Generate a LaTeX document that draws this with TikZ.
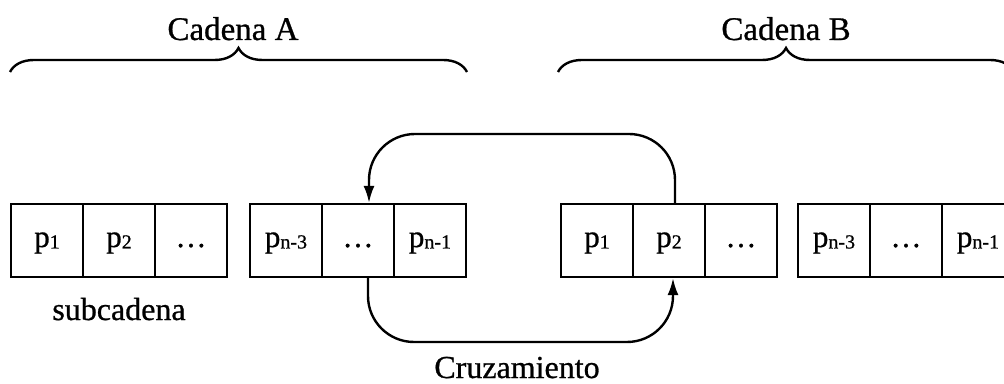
\documentclass[tikz,border=0pt]{standalone}
\usepackage{fontspec}
\setmainfont{Liberation Serif}[RawFeature={embolden=0.8}]
\usetikzlibrary{arrows.meta,decorations.pathreplacing,calc}
% small subscript index set next to a gene symbol
\newcommand{\gsub}[1]{{\fontsize{20}{21}\selectfont\raisebox{-1.5pt}{#1}}}
\begin{document}
\begin{tikzpicture}[x=1pt,y=1pt,
  cell/.style={draw, line width=2.2pt, minimum width=72pt, minimum height=73pt,
    inner sep=0pt, font=\fontsize{31}{32}\selectfont, text height=20pt, text depth=7pt},
  title/.style={font=\fontsize{33}{36}\selectfont, anchor=base, inner sep=0pt},
  lbl/.style={font=\fontsize{32}{36}\selectfont, anchor=base, inner sep=0pt},
  brc/.style={decorate, decoration={brace, amplitude=24pt}, line width=2.4pt},
  arr/.style={line width=2.4pt, -{Latex[length=17pt,width=11pt]}}
]
\clip (0,0) rectangle (1004,383);

% chain A
\node[cell] (a1) at (47,142.5)  {p\gsub{1}};
\node[cell] (a2) at (119,142.5) {p\gsub{2}};
\node[cell] (a3) at (191,142.5) {\dots};
\node[cell] (a4) at (286,142.5) {p\gsub{n-3}};
\node[cell] (a5) at (358,142.5) {\dots};
\node[cell] (a6) at (430,142.5) {p\gsub{n-1}};

% chain B
\node[cell] (b1) at (597,142.5) {p\gsub{1}};
\node[cell] (b2) at (669,142.5) {p\gsub{2}};
\node[cell] (b3) at (741,142.5) {\dots};
\node[cell] (b4) at (834,142.5) {p\gsub{n-3}};
\node[cell] (b5) at (906,142.5) {\dots};
\node[cell] (b6) at (978,142.5) {p\gsub{n-1}};

% titles and braces
\node[title] (ta) at (233,343) {Cadena A};
\node[title] (tb) at (786,343) {Cadena B};
\draw[brc] (10,311) -- (467,311);
\draw[brc] (558,311) -- (1014,311);

% labels
\node[lbl] (sub) at (119,63) {subcadena};
\node[lbl] (cruz) at (517,5) {Cruzamiento};

% crossover arrows
\coordinate (top) at (520,249);
\coordinate (bot) at (520,41);
\draw[arr, rounded corners=46pt] ([xshift=6pt]b2.north) |- (top) -| ([xshift=11pt]a5.north);
\draw[arr, rounded corners=46pt] ([xshift=10pt]a5.south) |- (bot) -| ([xshift=4pt]b2.south);
\end{tikzpicture}
\end{document}
